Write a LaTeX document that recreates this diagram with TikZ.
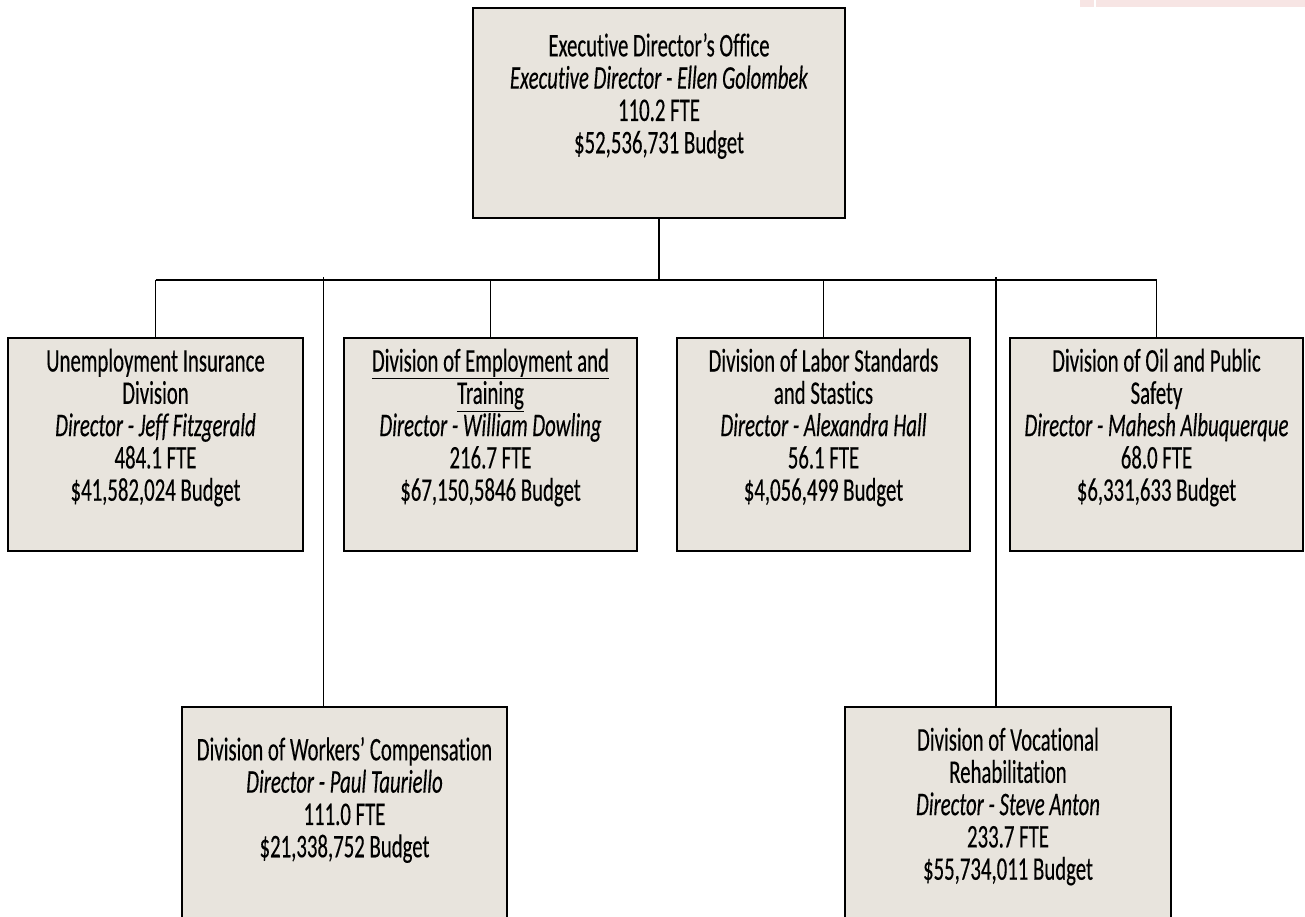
\documentclass[tikz,border=0pt]{standalone}
\usepackage{fontspec}
\setmainfont[FakeStretch=0.63, FakeBold=0.3, Ligatures={TeX,NoCommon}]{Carlito}
\usepackage{tikz}
\usetikzlibrary{positioning,fit,calc}
\definecolor{boxfill}{RGB}{232,228,221}
\definecolor{stripfill}{RGB}{247,229,228}

\begin{document}
\begin{tikzpicture}[x=1pt, y=-1pt, link/.style = {line width=1.8pt}]
		\tikzset{box/.style={draw=black,line width=2.4pt,rectangle,inner sep=0pt,fill=boxfill}}
		\tikzset{txt/.style={inner sep=0pt,align=center,font=\fontsize{33pt}{32.3pt}\selectfont}}

		\useasboundingbox (0,0) rectangle (1305,916);
		\clip (0,0) rectangle (1305,916);

		% header strip
		\fill[stripfill] (1080,0) rectangle (1094,7);
		\fill[stripfill] (1096,0) rectangle (1305,7);

		% Office
		\node[fit={(473,8) (845,218)}, box] (exec) {};

		% Divisions
		\node[fit={(8,338) (303,551)}, box] (ui) {};

		\node[fit={(344,338) (637,551)}, box] (det) {};

		\node[fit={(677,338) (970,551)}, box] (dls) {};

		\node[fit={(1010,338) (1303,551)}, box] (dops) {};

		\node[fit={(182,707) (507,927)}, box] (wc) {};

		\node[fit={(845,707) (1171,940)}, box] (vr) {};


		% Texts
		\node[txt] (exec-t) at ([yshift=17pt]exec.center) {Executive Director's Office\\ \textit{Executive Director - Ellen Golombek}\\ 110.2 FTE\\ \$52,536,731 Budget};

		\node[txt] (ui-t) at ([yshift=17pt]ui.center) {Unemployment Insurance\\ Division\\ \textit{Director - Jeff Fitzgerald}\\ 484.1 FTE\\ \$41,582,024 Budget};

		\node[txt] (det-t) at ([yshift=17pt]det.center) {\underline{Division of Employment and}\\ \underline{Training}\\ \textit{Director - William Dowling}\\ 216.7 FTE\\ \$67,150,5846 Budget};

		\node[txt] (dls-t) at ([yshift=17pt]dls.center) {Division of Labor Standards\\ and Stastics\\ \textit{Director - Alexandra Hall}\\ 56.1 FTE\\ \$4,056,499 Budget};

		\node[txt] (dops-t) at ([yshift=17pt]dops.center) {Division of Oil and Public\\ Safety\\ \textit{Director - Mahesh Albuquerque}\\ 68.0 FTE\\ \$6,331,633 Budget};

		\node[txt] (wc-t) at ([yshift=17pt]wc.center) {Division of Workers' Compensation\\ \textit{Director - Paul Tauriello}\\ 111.0 FTE\\ \$21,338,752 Budget};

		\node[txt] (vr-t) at ([yshift=17pt]vr.center) {Division of Vocational\\ Rehabilitation\\ \textit{Director - Steve Anton}\\ 233.7 FTE\\ \$55,734,011 Budget};

		% Lines
		\coordinate (bar) at ($(exec.south)+(0,61)$);
		\coordinate (wc-in) at ([xshift=-21pt]wc.north);
		\coordinate (vr-in) at ([xshift=-12pt]vr.north);

		\draw [link] (exec.south) -- (bar);
		\draw [link] (bar -| ui.north) -- (bar -| dops.north);
		\draw [link] (bar -| ui.north) -- (ui.north);
		\draw [link] (bar -| det.north) -- (det.north);
		\draw [link] (bar -| dls.north) -- (dls.north);
		\draw [link] (bar -| dops.north) -- (dops.north);
		\draw [link] ([yshift=3pt]bar -| wc-in) -- (wc-in);
		\draw [link] ([yshift=3pt]bar -| vr-in) -- (vr-in);

	\end{tikzpicture}
\end{document}
